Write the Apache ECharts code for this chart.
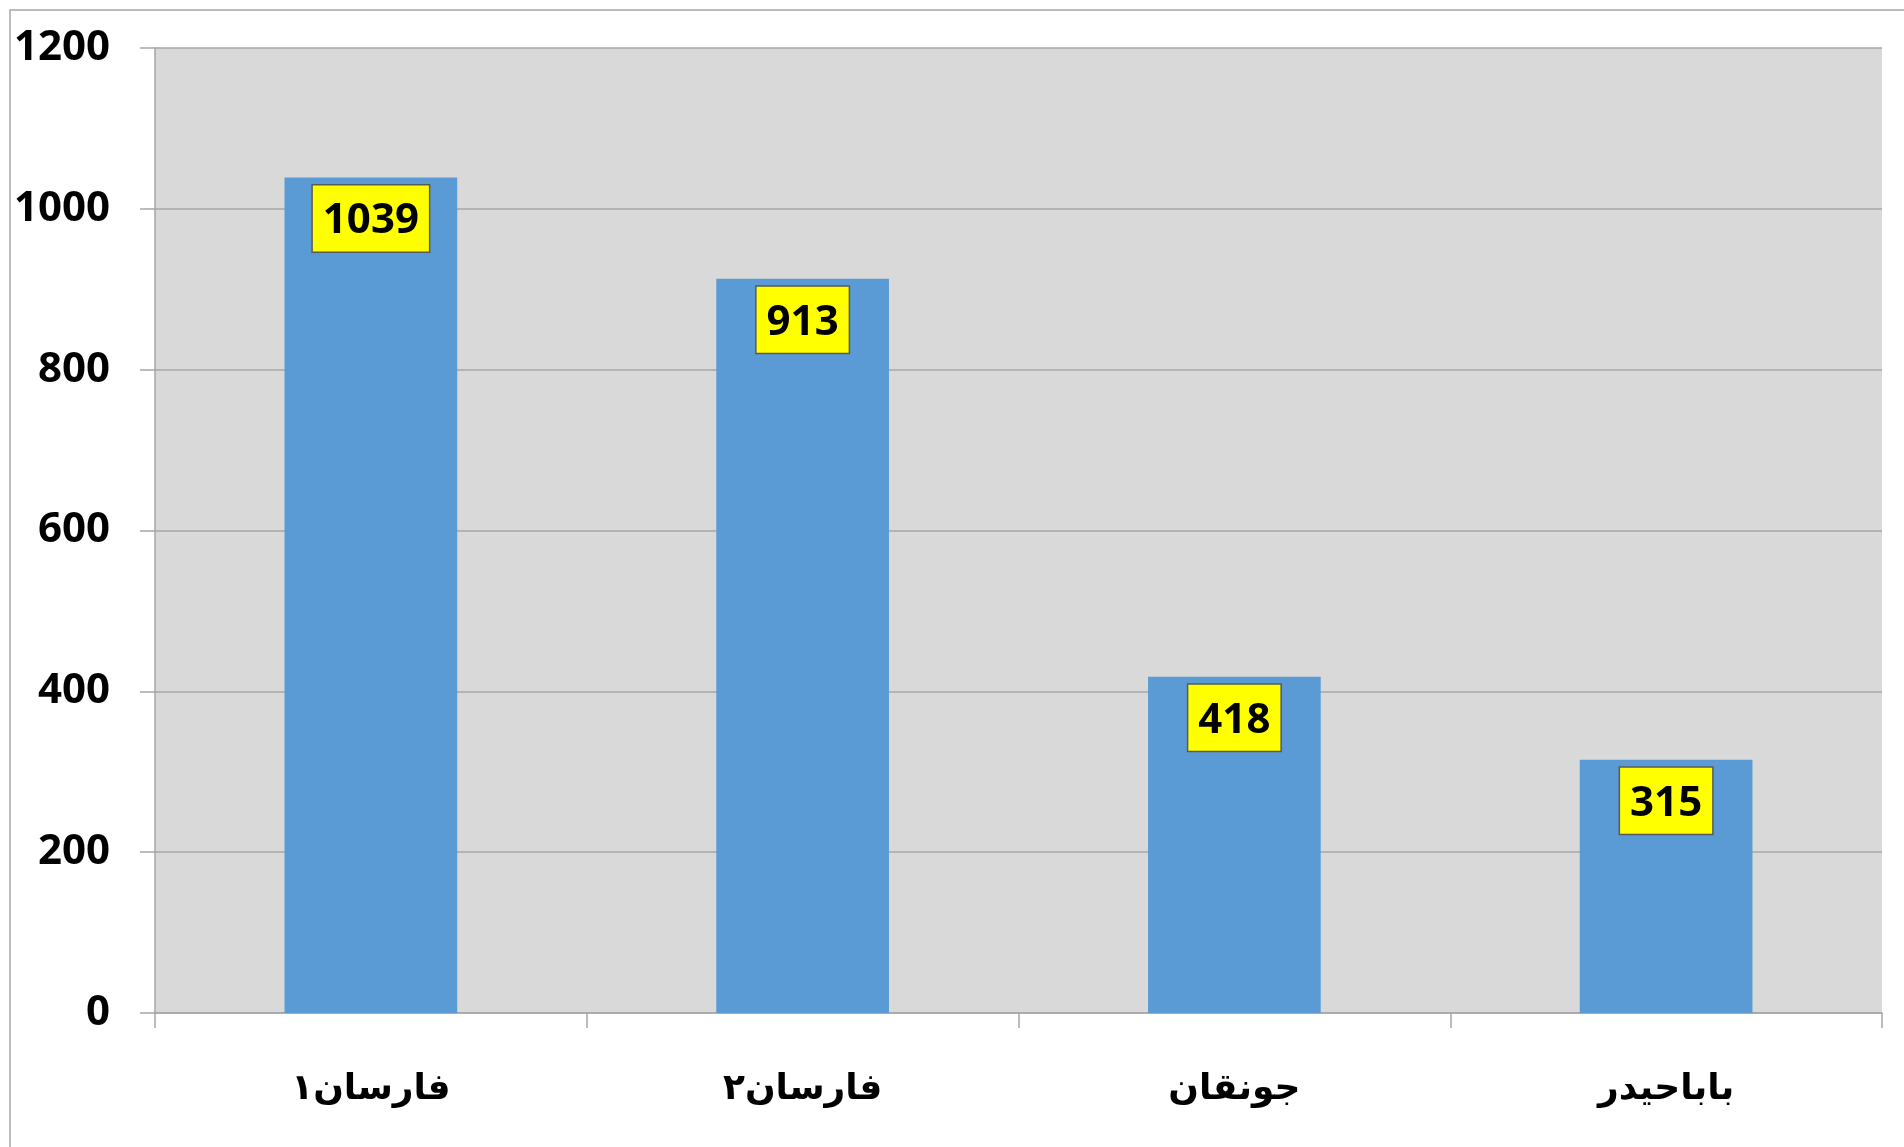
<!DOCTYPE html>
<html>
<head>
<meta charset="utf-8">
<title>فارسان</title>
<script src="https://cdn.jsdelivr.net/npm/echarts@6/dist/echarts.min.js"></script>
<style>
  html, body { margin: 0; padding: 0; background: #ffffff; }
  #chart { width: 1904px; height: 1147px; }
</style>
</head>
<body>
<div id="chart"></div>
<script>
// Site names along the horizontal axis
const categories = ['فارسان۱', 'فارسان۲', 'جونقان', 'باباحیدر'];
// Value of each site
const values = [1039, 913, 418, 315];
// Value axis range and step
const yMin = 0;
const yMax = 1200;
const yStep = 200;

const axisGray = '#a6a6a6';
const chart = echarts.init(document.getElementById('chart'), null, { renderer: 'canvas' });

chart.setOption({
  backgroundColor: '#ffffff',
  animation: false,
  graphic: [{
    // outer chart frame (runs off the right and bottom edges)
    type: 'rect',
    shape: { x: 10, y: 10, width: 2400, height: 2400 },
    style: { fill: 'none', stroke: axisGray, lineWidth: 1.5 },
    silent: true,
    z: 0
  }],
  grid: {
    left: 155, right: 22, top: 48, bottom: 134,
    show: true, backgroundColor: '#d9d9d9', borderWidth: 0
  },
  xAxis: {
    type: 'category',
    data: categories,
    axisLine: { show: true, lineStyle: { color: axisGray, width: 1.5 } },
    axisTick: { show: true, length: 15, lineStyle: { color: axisGray, width: 1.5 } },
    axisLabel: {
      margin: 57,
      fontFamily: 'DejaVu Sans',
      fontWeight: 'bold',
      fontSize: 36,
      lineHeight: 40,
      color: '#000000'
    }
  },
  yAxis: {
    type: 'value',
    min: yMin, max: yMax, interval: yStep,
    axisLine: { show: true, lineStyle: { color: axisGray, width: 1.5 } },
    axisTick: { show: true, length: 15, lineStyle: { color: axisGray, width: 1.5 } },
    splitLine: { show: true, lineStyle: { color: axisGray, width: 1.5 } },
    axisLabel: {
      margin: 45,
      formatter: (v) => String(v),
      fontFamily: 'Open Sans',
      fontWeight: 'bold',
      fontSize: 42,
      color: '#000000'
    }
  },
  series: [{
    type: 'bar',
    data: values,
    barWidth: '40%',
    itemStyle: { color: '#5b9bd5' },
    label: {
      show: true,
      position: 'insideTop',
      distance: 8,
      fontFamily: 'Open Sans',
      fontWeight: 'bold',
      fontSize: 42,
      lineHeight: 50,
      color: '#000000',
      backgroundColor: '#ffff00',
      borderColor: '#595959',
      borderWidth: 1.5,
      padding: [11, 10, 5, 10]
    }
  }]
});
</script>
</body>
</html>
